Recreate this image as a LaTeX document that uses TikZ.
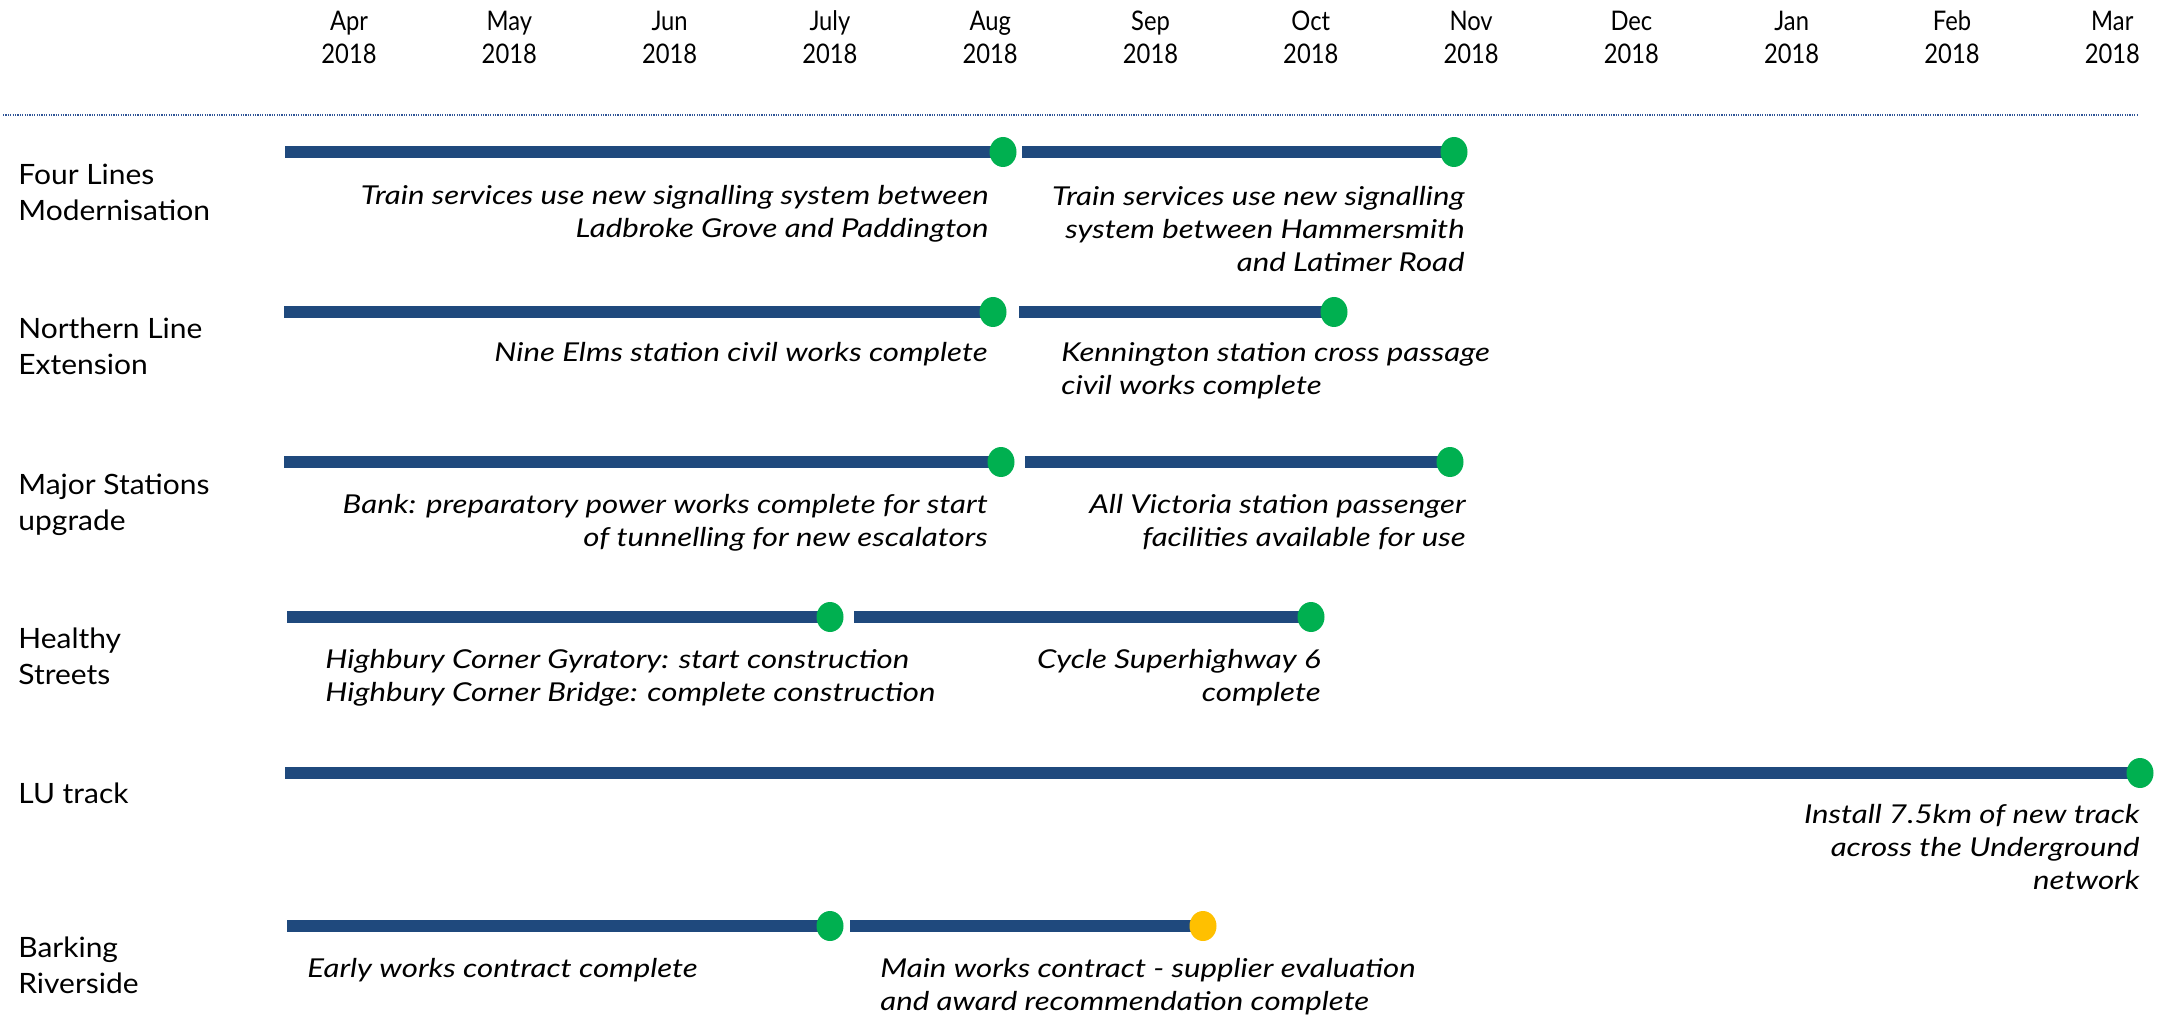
\documentclass[tikz,border=0pt]{standalone}
\usepackage{fontspec}
\setmainfont{Lato}
\newfontfamily\notefont{Lato}[FakeStretch=1.2]
\newfontfamily\monthfont{Lato}[FakeStretch=0.88]
\newfontfamily\rowfont{Lato}[FakeStretch=1.07]
\usetikzlibrary{shapes.geometric,backgrounds}
\definecolor{barblue}{HTML}{1F497D}
\definecolor{msgreen}{HTML}{00B050}
\definecolor{msyellow}{HTML}{FFC000}
\definecolor{rulecol}{HTML}{2F5597}
\begin{document}
\begin{tikzpicture}[x=0.5pt,y=-0.5pt,
  month/.style={align=center,font=\monthfont\fontsize{13.5}{16.5}\selectfont,inner sep=0,anchor=north},
  rowlab/.style={align=left,font=\rowfont\fontsize{14}{18}\selectfont,inner sep=0,anchor=north west},
  note/.style={font=\notefont\fontsize{13}{16.5}\selectfont\itshape,inner sep=0},
  noteR/.style={note,align=right,anchor=north east},
  noteL/.style={note,align=left,anchor=north west},
  bar/.style={draw=barblue,line width=5.85pt,shorten >=-4pt},
  mdot/.style={ellipse,fill=msgreen,minimum width=13.5pt,minimum height=15pt,inner sep=0},
  ydot/.style={mdot,fill=msyellow},
  rule/.style={draw=rulecol,line width=0.7pt,dash pattern=on 0.6pt off 0.6pt}]
\useasboundingbox (0,0) rectangle (2165,1016);
% month header
\foreach \m [count=\i from 0] in {Apr,May,Jun,July,Aug,Sep,Oct,Nov,Dec,Jan,Feb,Mar}{
  \node[month] (m\i) at ({349+160.3*\i},7) {\strut\m\\2018};
}
\coordinate (ruleL) at (3,115);
\coordinate (ruleR) at (2137,115);
\draw[rule] (ruleL) -- (ruleR);
% row labels
\node[rowlab] (r1) at (18,159) {\strut Four Lines\\Modernisation};
\node[rowlab] (r2) at (18,313) {\strut Northern Line\\Extension};
\node[rowlab] (r3) at (18,469) {\strut Major Stations\\upgrade};
\node[rowlab] (r4) at (18,623) {\strut Healthy\\Streets};
\node[rowlab] (r5) at (18,778) {\strut LU track};
\node[rowlab] (r6) at (18,932) {\strut Barking\\Riverside};
% Four Lines
\coordinate (fl-s1) at (285,152);
\node[mdot] (fl-m1) at (1003,152) {};
\coordinate (fl-s2) at (1022,152);
\node[mdot] (fl-m2) at (1454,152) {};
\node[noteR] (fl-n1) at (989,181) {\strut Train services use new signalling system between\\Ladbroke Grove and Paddington};
\node[noteR] (fl-n2) at (1465,182) {\strut Train services use new signalling\\system between Hammersmith\\and Latimer Road};
% Northern Line
\coordinate (nl-s1) at (284,312);
\node[mdot] (nl-m1) at (993,312) {};
\coordinate (nl-s2) at (1019,312);
\node[mdot] (nl-m2) at (1334,312) {};
\node[noteR] (nl-n1) at (988,338) {\strut Nine Elms station civil works complete};
\node[noteL] (nl-n2) at (1061,338) {\strut Kennington station cross passage\\civil works complete};
% Major Stations
\coordinate (ms-s1) at (284,462);
\node[mdot] (ms-m1) at (1001,462) {};
\coordinate (ms-s2) at (1025,462);
\node[mdot] (ms-m2) at (1450,462) {};
\node[noteR] (ms-n1) at (988,490) {\strut Bank: preparatory power works complete for start\\of tunnelling for new escalators};
\node[noteR] (ms-n2) at (1466,490) {\strut All Victoria station passenger\\facilities available for use};
% Healthy Streets
\coordinate (hs-s1) at (287,617);
\node[mdot] (hs-m1) at (830,617) {};
\coordinate (hs-s2) at (854,617);
\node[mdot] (hs-m2) at (1311,617) {};
\node[noteL] (hs-n1) at (325,645) {\strut Highbury Corner Gyratory: start construction\\Highbury Corner Bridge: complete construction};
\node[noteR] (hs-n2) at (1321,645) {\strut Cycle Superhighway 6\\complete};
% LU track
\coordinate (lu-s1) at (285,773);
\node[mdot] (lu-m1) at (2140,773) {};
\node[noteR] (lu-n1) at (2140,800) {\strut Install 7.5km of new track\\across the Underground\\network};
% Barking Riverside
\coordinate (br-s1) at (287,926);
\node[mdot] (br-m1) at (830,926) {};
\coordinate (br-s2) at (850,926);
\node[ydot] (br-m2) at (1203,926) {};
\node[noteL] (br-n1) at (307,954) {\strut Early works contract complete};
\node[noteL] (br-n2) at (880,954) {\strut Main works contract - supplier evaluation\\and award recommendation complete};
% bars behind the milestones
\begin{scope}[on background layer]
\draw[bar] (fl-s1) -- (fl-m1.center);
\draw[bar] (fl-s2) -- (fl-m2.center);
\draw[bar] (nl-s1) -- (nl-m1.center);
\draw[bar] (nl-s2) -- (nl-m2.center);
\draw[bar] (ms-s1) -- (ms-m1.center);
\draw[bar] (ms-s2) -- (ms-m2.center);
\draw[bar] (hs-s1) -- (hs-m1.center);
\draw[bar] (hs-s2) -- (hs-m2.center);
\draw[bar] (lu-s1) -- (lu-m1.center);
\draw[bar] (br-s1) -- (br-m1.center);
\draw[bar] (br-s2) -- (br-m2.center);
\end{scope}
\end{tikzpicture}
\end{document}
